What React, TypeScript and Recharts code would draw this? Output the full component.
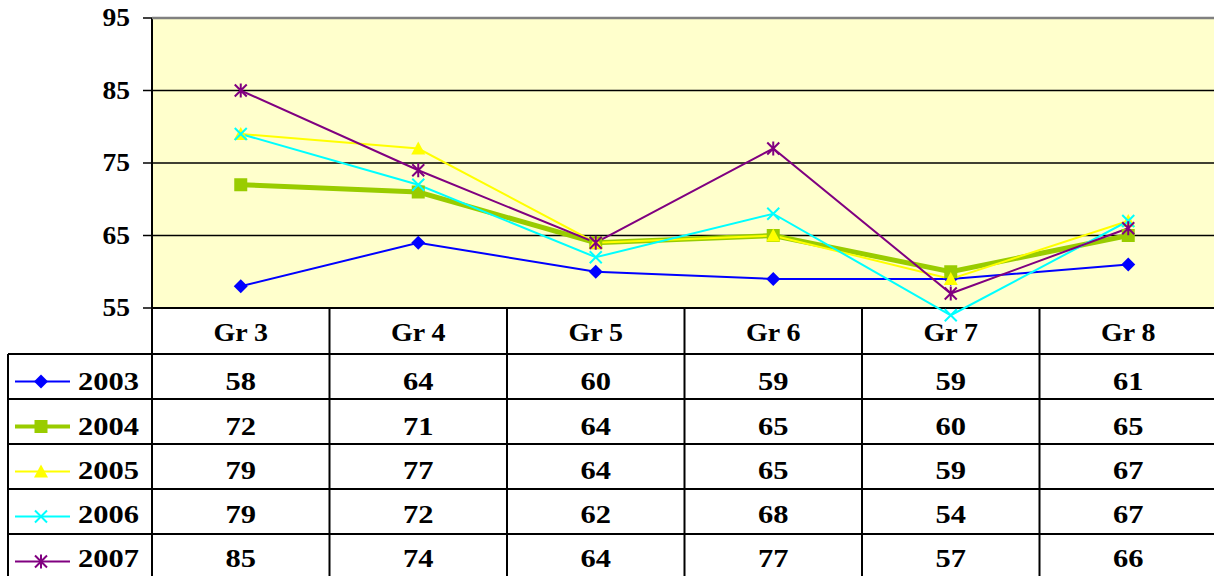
import { CartesianGrid, Customized, Line, LineChart, ReferenceLine, XAxis, YAxis } from 'recharts';

const grades = ['Gr 3', 'Gr 4', 'Gr 5', 'Gr 6', 'Gr 7', 'Gr 8'];
const years = ['2003', '2004', '2005', '2006', '2007'];
const scores2003 = [58, 64, 60, 59, 59, 61];
const scores2004 = [72, 71, 64, 65, 60, 65];
const scores2005 = [79, 77, 64, 65, 59, 67];
const scores2006 = [79, 72, 62, 68, 54, 67];
const scores2007 = [85, 74, 64, 77, 57, 66];
const yTicks = [55, 65, 75, 85, 95];

type Shape = 'diamond' | 'square' | 'triangle' | 'cross' | 'star';

const series: { year: string; values: number[]; color: string; width: number; shape: Shape }[] = [
  { year: years[0], values: scores2003, color: '#0000ff', width: 2, shape: 'diamond' },
  { year: years[1], values: scores2004, color: '#99cc00', width: 5, shape: 'square' },
  { year: years[2], values: scores2005, color: '#ffff00', width: 2, shape: 'triangle' },
  { year: years[3], values: scores2006, color: '#00ffff', width: 2, shape: 'cross' },
  { year: years[4], values: scores2007, color: '#800080', width: 2, shape: 'star' },
];

const data = grades.map((grade, i) => {
  const row: Record<string, string | number> = { grade };
  series.forEach((s) => {
    row[s.year] = s.values[i];
  });
  return row;
});

// layout: the value axis runs 95 (y=18) down to 55 (y=308); 54 sits a bit below so the 2006 dip is not clipped
const W = 1217;
const H = 576;
const PLOT_TOP = 18;
const PLOT_LEFT = 152;
const PLOT_BOTTOM = 308;
const PX_PER_UNIT = (PLOT_BOTTOM - PLOT_TOP) / 40;
const AXIS_BOTTOM = PLOT_BOTTOM + PX_PER_UNIT;
const BAND = (W - PLOT_LEFT) / grades.length;
const HEADER_BASE = 341;
const ROW_LINES = [354, 399, 444, 489, 534, 579];
const ROW_BASES = [390, 435, 479, 523, 567];
const FONT = 'Liberation Serif, serif';

function T({ x, y, anchor, sx = 1.22, children }: { x: number; y: number; anchor: 'start' | 'middle' | 'end'; sx?: number; children: any }) {
  return (
    <text
      transform={`translate(${x} ${y}) scale(${sx} 1)`}
      textAnchor={anchor}
      fontFamily={FONT}
      fontWeight="bold"
      fontSize={25}
      fill="#000"
    >
      {children}
    </text>
  );
}

function Marker({ cx, cy, shape, color }: { cx: number; cy: number; shape: Shape; color: string }) {
  if (cx == null || cy == null) return null;
  if (shape === 'diamond') {
    return <path d={`M${cx},${cy - 7}L${cx + 7},${cy}L${cx},${cy + 7}L${cx - 7},${cy}Z`} fill={color} />;
  }
  if (shape === 'square') {
    return <rect x={cx - 6.5} y={cy - 6.5} width={13} height={13} fill={color} />;
  }
  if (shape === 'triangle') {
    return <path d={`M${cx},${cy - 7}L${cx + 7},${cy + 6}L${cx - 7},${cy + 6}Z`} fill={color} />;
  }
  if (shape === 'cross') {
    return (
      <path
        d={`M${cx - 6},${cy - 6}L${cx + 6},${cy + 6}M${cx + 6},${cy - 6}L${cx - 6},${cy + 6}`}
        stroke={color}
        strokeWidth={2}
      />
    );
  }
  return (
    <path
      d={`M${cx - 6},${cy - 6}L${cx + 6},${cy + 6}M${cx + 6},${cy - 6}L${cx - 6},${cy + 6}M${cx},${cy - 7}L${cx},${cy + 7}`}
      stroke={color}
      strokeWidth={2}
    />
  );
}

function YTick(props: any) {
  const { x, y, payload } = props;
  return (
    <T x={x} y={y + 8} anchor="end" sx={1.1}>
      {payload.value}
    </T>
  );
}

function TableColumn(props: any) {
  const { x, payload } = props;
  const i = payload.index;
  return (
    <g>
      <T x={x} y={HEADER_BASE} anchor="middle" sx={1.12}>
        {payload.value}
      </T>
      {series.map((s, r) => (
        <T key={s.year} x={x} y={ROW_BASES[r]} anchor="middle">
          {s.values[i]}
        </T>
      ))}
      <line x1={x + BAND / 2} y1={PLOT_BOTTOM} x2={x + BAND / 2} y2={H} stroke="#000" strokeWidth={2} />
    </g>
  );
}

function TableFrame() {
  return (
    <g>
      {ROW_LINES.map((y) => (
        <line key={y} x1={8} y1={y} x2={W} y2={y} stroke="#000" strokeWidth={2} />
      ))}
      <line x1={8} y1={ROW_LINES[0]} x2={8} y2={H} stroke="#000" strokeWidth={2} />
      <line x1={PLOT_LEFT} y1={PLOT_TOP} x2={PLOT_LEFT} y2={H} stroke="#000" strokeWidth={2} />
      {series.map((s, r) => {
        const cy = (ROW_LINES[r] + ROW_LINES[r + 1]) / 2 + 5;
        return (
          <g key={s.year}>
            <line x1={15} y1={cy} x2={70} y2={cy} stroke={s.color} strokeWidth={s.width === 5 ? 4 : 2} />
            <Marker cx={41} cy={cy} shape={s.shape} color={s.color} />
            <T x={78} y={ROW_BASES[r]} anchor="start">
              {s.year}
            </T>
          </g>
        );
      })}
    </g>
  );
}

export default function App() {
  return (
    <div style={{ position: 'absolute', left: 0, top: 0, width: 1214, height: 576, overflow: 'hidden', background: '#fff' }}>
      <LineChart width={W} height={H} data={data} margin={{ top: PLOT_TOP, right: 0, left: 0, bottom: 0 }}>
        <CartesianGrid
          x={PLOT_LEFT}
          y={PLOT_TOP}
          width={W - PLOT_LEFT}
          height={PLOT_BOTTOM - PLOT_TOP}
          fill="#ffffcc"
          vertical={false}
          horizontalValues={[65, 75, 85]}
          stroke="#000"
          strokeWidth={1.5}
        />
        <ReferenceLine y={95} stroke="#808080" strokeWidth={2.5} />
        <XAxis
          dataKey="grade"
          interval={0}
          height={H - AXIS_BOTTOM}
          padding={{ left: BAND / 2, right: BAND / 2 }}
          axisLine={false}
          tickLine={false}
          tick={<TableColumn />}
        />
        <YAxis
          width={PLOT_LEFT}
          domain={[54, 95]}
          ticks={yTicks}
          interval={0}
          axisLine={false}
          tickLine={{ stroke: '#000', strokeWidth: 1.5 }}
          tickSize={9}
          tickMargin={13}
          tick={<YTick />}
        />
        <ReferenceLine y={55} stroke="#000" strokeWidth={2} />
        {series.map((s) => (
          <Line
            key={s.year}
            dataKey={s.year}
            type="linear"
            stroke={s.color}
            strokeWidth={s.width}
            isAnimationActive={false}
            dot={(p: any) => <Marker key={`${s.year}-${p.index}`} cx={p.cx} cy={p.cy} shape={s.shape} color={s.color} />}
            activeDot={false}
          />
        ))}
        <Customized component={<TableFrame />} />
      </LineChart>
    </div>
  );
}
